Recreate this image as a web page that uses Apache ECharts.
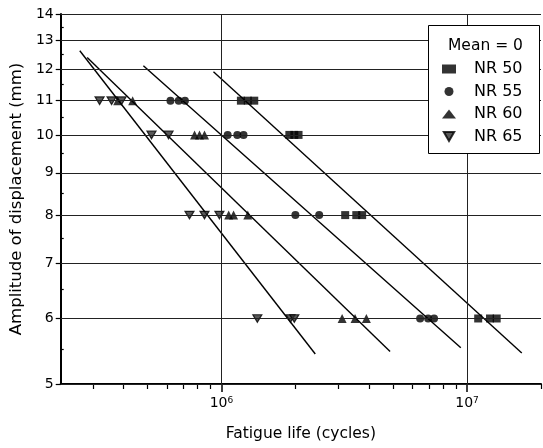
<!DOCTYPE html>
<html>
<head>
<meta charset="utf-8">
<script src="https://cdn.jsdelivr.net/npm/echarts@6/dist/echarts.min.js"></script>
<style>
  html, body { margin: 0; padding: 0; background: #fff; }
  #chart { width: 543px; height: 448px; }
</style>
</head>
<body>
<div id="chart"></div>
<script>
// series names shown in the legend
const seriesNames = ['NR 50', 'NR 55', 'NR 60', 'NR 65'];

// measured points: [fatigue life (cycles), amplitude (mm)]
const nr50 = [
  [1.20e6, 11], [1.28e6, 11], [1.36e6, 11],
  [1.89e6, 10], [1.98e6, 10], [2.06e6, 10],
  [3.19e6, 8], [3.54e6, 8], [3.74e6, 8],
  [1.11e7, 6], [1.24e7, 6], [1.32e7, 6]
];
const nr55 = [
  [6.2e5, 11], [6.7e5, 11], [7.1e5, 11],
  [1.06e6, 10], [1.16e6, 10], [1.23e6, 10],
  [2.0e6, 8], [2.5e6, 8],
  [6.44e6, 6], [6.94e6, 6], [7.34e6, 6]
];
const nr60 = [
  [3.78e5, 11], [4.35e5, 11],
  [7.77e5, 10], [8.14e5, 10], [8.53e5, 10],
  [1.07e6, 8], [1.12e6, 8], [1.28e6, 8],
  [3.10e6, 6], [3.50e6, 6], [3.89e6, 6]
];
const nr65 = [
  [3.19e5, 11], [3.57e5, 11], [3.92e5, 11],
  [5.19e5, 10], [6.09e5, 10],
  [7.41e5, 8], [8.53e5, 8], [9.81e5, 8],
  [1.40e6, 6], [1.91e6, 6], [1.98e6, 6]
];

// fitted lines (start / end)
const fit50 = [[9.28e5, 11.92], [1.67e7, 5.45]];
const fit55 = [[4.81e5, 12.12], [9.43e6, 5.53]];
const fit60 = [[2.84e5, 12.40], [4.86e6, 5.475]];
const fit65 = [[2.65e5, 12.64], [2.41e6, 5.435]];

// ticks
const yTicks = [5, 6, 7, 8, 9, 10, 11, 12, 13, 14];
const yMinorTicks = [5.5, 6.5, 7.5, 8.5, 9.5, 10.5, 11.5, 12.5, 13.5];
const xMajorTicks = [1e6, 1e7];
const xMinorTicks = [3e5, 4e5, 5e5, 6e5, 7e5, 8e5, 9e5,
  2e6, 3e6, 4e6, 5e6, 6e6, 7e6, 8e6, 9e6, 2e7];

const X_MIN = 2.216e5, X_MAX = 2e7;
const Y_MIN = 5, Y_MAX = 14;
const FONT = '"DejaVu Sans", sans-serif';
const DOWN_TRI = 'path://M0,0L10,0L5,8.66Z';

const chart = echarts.init(document.getElementById('chart'));

const scatter = (name, data, symbol, size, style) => ({
  name: name,
  type: 'scatter',
  data: data,
  symbol: symbol,
  symbolSize: size,
  itemStyle: style,
  z: 4
});

const fitLine = (data) => ({
  type: 'line',
  data: data,
  symbol: 'none',
  lineStyle: { color: '#000', width: 1.4 },
  silent: true,
  z: 3
});

const option = {
  animation: false,
  backgroundColor: '#fff',
  textStyle: { fontFamily: FONT },
  grid: { left: 60, right: 2, top: 14, bottom: 64 },
  xAxis: [
    {
      type: 'log',
      logBase: 10,
      min: X_MIN,
      max: X_MAX,
      name: 'Fatigue life (cycles)',
      nameLocation: 'middle',
      nameGap: 42,
      nameTextStyle: { fontSize: 15.5, color: '#000', fontFamily: FONT },
      axisLine: { lineStyle: { color: '#000', width: 2 } },
      axisTick: { customValues: xMajorTicks, length: 8, lineStyle: { color: '#000', width: 1.5 } },
      axisLabel: {
        customValues: xMajorTicks,
        margin: 12,
        color: '#000',
        formatter: (v) => '{b|10}{s|' + Math.round(Math.log10(v)) + '}',
        rich: {
          b: { fontSize: 14, lineHeight: 14, verticalAlign: 'bottom', color: '#000', fontFamily: FONT },
          s: { fontSize: 9, lineHeight: 9, verticalAlign: 'top', color: '#000', fontFamily: FONT }
        }
      },
      splitLine: { show: false }
    },
    {
      // minor ticks
      type: 'log',
      logBase: 10,
      min: X_MIN,
      max: X_MAX,
      position: 'bottom',
      axisLine: { show: false },
      axisTick: { customValues: xMinorTicks, length: 5, lineStyle: { color: '#000', width: 1.2 } },
      axisLabel: { show: false },
      splitLine: { show: false }
    }
  ],
  yAxis: [
    {
      type: 'log',
      logBase: 10,
      min: Y_MIN,
      max: Y_MAX,
      name: 'Amplitude of displacement (mm)',
      nameLocation: 'middle',
      nameGap: 35,
      nameTextStyle: { fontSize: 16.5, color: '#000', fontFamily: FONT },
      axisLine: { lineStyle: { color: '#000', width: 2 } },
      axisTick: { customValues: yTicks, length: 5, lineStyle: { color: '#000', width: 1.2 } },
      axisLabel: { customValues: yTicks, fontSize: 14, color: '#000', margin: 7, fontFamily: FONT },
      splitLine: { show: false }
    },
    {
      // minor ticks
      type: 'log',
      logBase: 10,
      min: Y_MIN,
      max: Y_MAX,
      position: 'left',
      axisLine: { show: false },
      axisTick: { customValues: yMinorTicks, inside: true, length: 3, lineStyle: { color: '#000', width: 1.2 } },
      axisLabel: { show: false },
      splitLine: { show: false }
    }
  ],
  legend: {
    data: [
      { name: 'NR 50' },
      { name: 'NR 55' },
      { name: 'NR 60' },
      { name: 'NR 65', icon: DOWN_TRI }
    ],
    orient: 'vertical',
    left: 442,
    top: 61,
    padding: 0,
    itemGap: 6.5,
    itemWidth: 14,
    itemHeight: 9,
    selectedMode: false,
    textStyle: { fontSize: 16, lineHeight: 16, color: '#000', fontFamily: FONT, padding: [0, 0, 0, 13] },
    z: 11
  },
  graphic: [
    {
      type: 'rect',
      shape: { x: 428.5, y: 25.5, width: 111, height: 128 },
      style: { fill: '#fff', stroke: '#000', lineWidth: 1 },
      z: 10
    },
    {
      type: 'text',
      x: 448,
      y: 46,
      style: { text: 'Mean = 0', font: '15.5px ' + FONT, fill: '#000', verticalAlign: 'middle' },
      z: 11
    }
  ],
  series: [
    Object.assign(fitLine(fit50), {
      markLine: {
        silent: true,
        symbol: 'none',
        label: { show: false },
        lineStyle: { color: '#222', width: 1, type: 'solid' },
        data: yTicks.map((v) => ({ yAxis: v })).concat(xMajorTicks.map((v) => ({ xAxis: v })))
      }
    }),
    fitLine(fit55),
    fitLine(fit60),
    fitLine(fit65),
    scatter('NR 50', nr50, 'rect', 8, { color: '#000' }),
    scatter('NR 55', nr55, 'circle', 8, { color: '#000' }),
    scatter('NR 60', nr60, 'triangle', 9, { color: '#000' }),
    scatter('NR 65', nr65, DOWN_TRI, [9, 7.5], { color: '#2e2e2e', borderColor: '#000', borderWidth: 1.2 })
  ]
};

chart.setOption(option);
</script>
</body>
</html>
